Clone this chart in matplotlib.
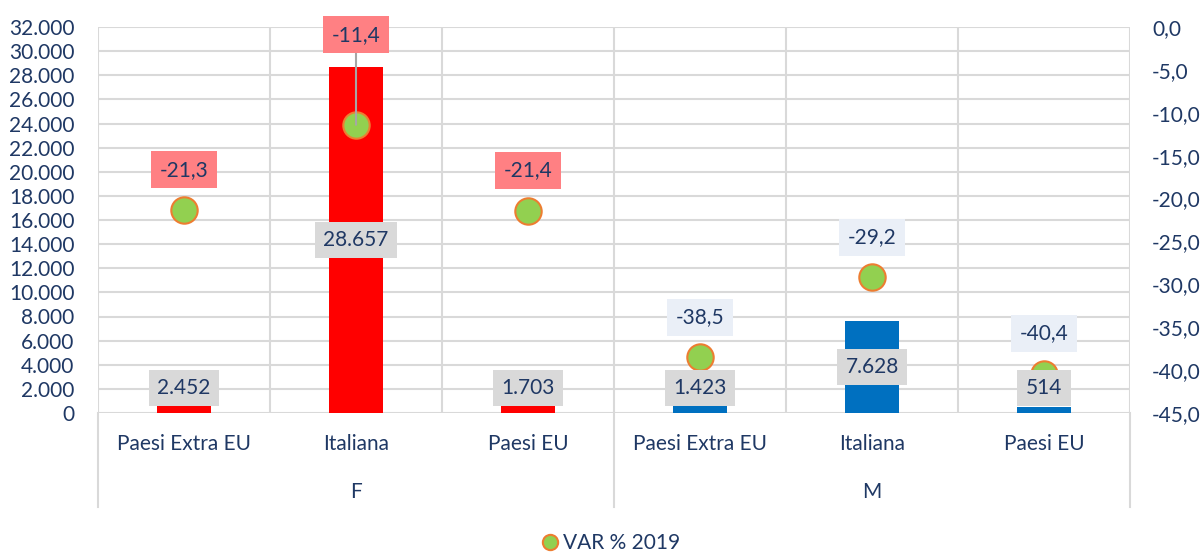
import numpy as np
import matplotlib.pyplot as plt
import matplotlib.transforms as mtransforms
from matplotlib.lines import Line2D

plt.rcParams['font.family'] = ['Lato', 'DejaVu Sans']

# data
groups = ['F', 'M']
categories = ['Paesi Extra EU', 'Italiana', 'Paesi EU',
              'Paesi Extra EU', 'Italiana', 'Paesi EU']
values = [2452, 28657, 1703, 1423, 7628, 514]
var_2019 = [-21.3, -11.4, -21.4, -38.5, -29.2, -40.4]

NAVY = '#1F3864'
GRID = '#D9D9D9'
bar_colors = ['#FF0000'] * 3 + ['#0070C0'] * 3
var_box_colors = ['#FF8083'] * 3 + ['#EAEFF7'] * 3
FS = 15

fig = plt.figure(figsize=(12.04, 5.52), dpi=100)
W, H = 1204, 552
ax = fig.add_axes([98 / W, 1 - 413 / H, (1130 - 98) / W, (413 - 27) / H])
ax2 = ax.twinx()

x = np.arange(len(values))
ax.set_xlim(-0.5, len(values) - 0.5)
ax.set_ylim(0, 32000)
ax2.set_ylim(-45, 0)

# grid
yt = np.arange(0, 32001, 2000)
for y in yt:
    ax.axhline(y, color=GRID, lw=1.5, zorder=0)
for b in np.arange(-0.5, len(values), 1.0):
    ax.axvline(b, color=GRID, lw=1.5, zorder=0)
# group separators go down through the label area
trans = mtransforms.blended_transform_factory(ax.transData, ax.transAxes)
for b in [-0.5, 2.5, 5.5]:
    ax.plot([b, b], [0, -(507 - 413) / 386], color=GRID, lw=1.5,
            transform=trans, clip_on=False, zorder=0)

ax.bar(x, values, width=0.31, color=bar_colors, zorder=1)

for a in (ax, ax2):
    for s in a.spines.values():
        s.set_visible(False)
    a.tick_params(length=0, labelsize=FS, labelcolor=NAVY)

ax.set_yticks(yt)
ax.set_yticklabels([f"{v:,.0f}".replace(',', '.') for v in yt])
ax.tick_params(axis='y', pad=17)
rt = np.arange(-45, 0.1, 5)
ax2.set_yticks(rt)
ax2.set_yticklabels([f"{v:.1f}".replace('.', ',') for v in rt])
ax2.tick_params(axis='y', pad=16)

ax.set_xticks(x)
ax.set_xticklabels(categories)
ax.tick_params(axis='x', pad=15)

for i, g in enumerate(groups):
    ax.text(i * 3 + 1, -(492 - 413) / 386, g, transform=trans, ha='center',
            va='center', fontsize=FS, color=NAVY)

# VAR % points
ax2.plot(x, var_2019, linestyle='none', marker='o', markersize=19,
         markerfacecolor='#92D050', markeredgecolor='#ED7D31',
         markeredgewidth=1.5, zorder=2)

# value labels (centered in bar, pushed up when bar too short)
min_center = 2070
for xi, v in zip(x, values):
    yl = max(v / 2, min_center)
    ax2.annotate(f"{v:,}".replace(',', '.'), xy=(xi, yl), xycoords=ax.transData,
                 ha='center', va='center', fontsize=FS, color=NAVY, zorder=4,
                 bbox=dict(boxstyle='square,pad=0.4', fc='#D9D9D9', ec='none'))

# VAR labels above points
for xi, v, fc in zip(x, var_2019, var_box_colors):
    txt = f"{v:.1f}".replace('.', ',')
    if v > -15:
        ax2.annotate(txt, xy=(xi, v), xytext=(0, 90), textcoords='offset pixels',
                     ha='center', va='center', fontsize=FS, color=NAVY, zorder=5,
                     bbox=dict(boxstyle='square,pad=0.4', fc=fc, ec='none'),
                     arrowprops=dict(arrowstyle='-', color='#A6A6A6', lw=1.5,
                                     shrinkA=0, shrinkB=0))
    else:
        ax2.annotate(txt, xy=(xi, v), xytext=(0, 40), textcoords='offset pixels',
                     ha='center', va='center', fontsize=FS, color=NAVY, zorder=5,
                     bbox=dict(boxstyle='square,pad=0.4', fc=fc, ec='none'))

handle = Line2D([], [], linestyle='none', marker='o', markersize=11,
                markerfacecolor='#92D050', markeredgecolor='#ED7D31',
                markeredgewidth=1.5)
leg = fig.legend([handle], ['VAR % 2019'], loc='center',
                 bbox_to_anchor=(610 / W, 1 - 543 / H), frameon=False,
                 fontsize=FS, handletextpad=0.1, borderpad=0, handlelength=1)
for t in leg.get_texts():
    t.set_color(NAVY)

plt.savefig("out.png", dpi=100)
